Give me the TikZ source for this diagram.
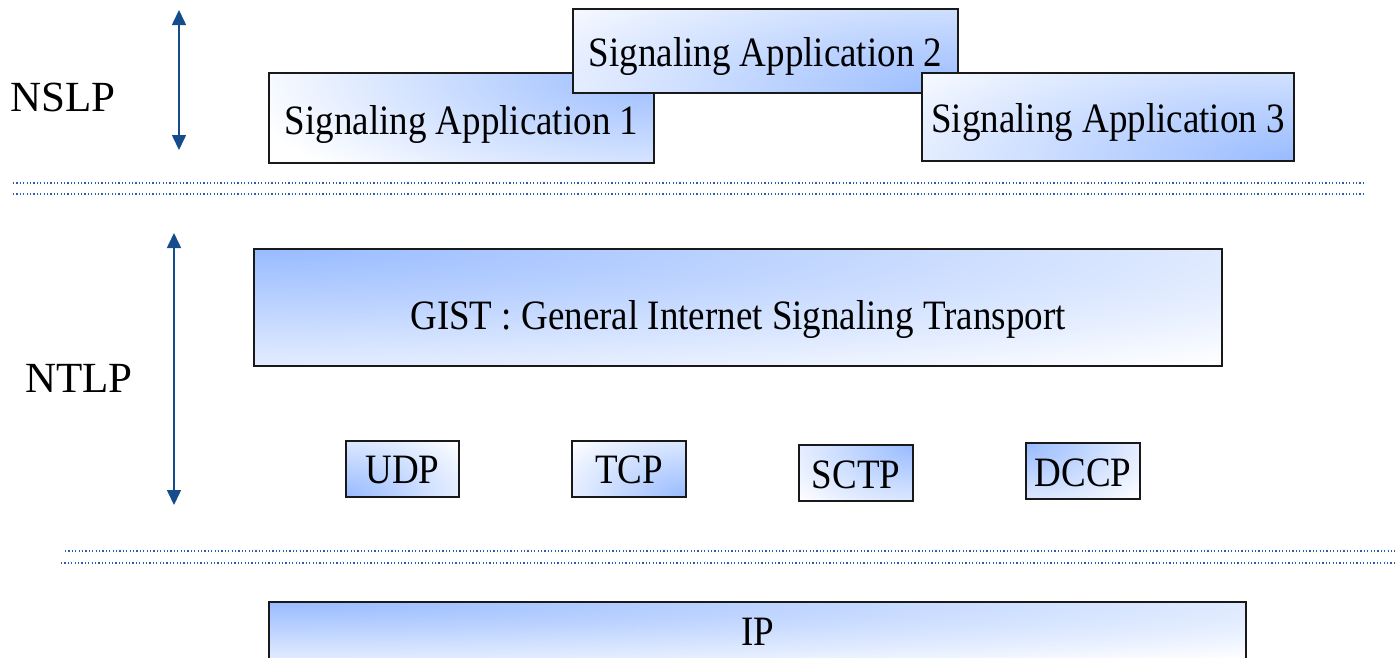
\documentclass[tikz,border=0pt]{standalone}
\usepackage{fontspec}
\setmainfont{Liberation Serif}
\usetikzlibrary{arrows.meta}
\definecolor{gb}{RGB}{152,187,255}
\definecolor{arrblue}{RGB}{22,76,140}
\definecolor{dotblue}{RGB}{40,95,170}
\newcommand{\boxtext}[2]{\raisebox{-#1}[\height][\depth]{\scalebox{1}[1.13]{#2}}}
\tikzset{
  box/.style={draw=black!90, line width=2pt, fill=white, inner sep=0pt,
    font=\fontsize{37}{40}\selectfont},
  glow/.style n args={3}{path picture={\shade[inner color=gb, outer color=white]
    (path picture bounding box.#1) ellipse [x radius=#2, y radius=#3];}},
  layerlbl/.style={font=\fontsize{43}{46}\selectfont, inner sep=0pt},
  sep/.style={dotblue, line width=1.4pt, dash pattern=on 1.2pt off 2.2pt},
  updown/.style={arrblue, line width=1.6pt, {Triangle[width=14pt,length=15pt]}-{Triangle[width=14pt,length=15pt]}}
}
\begin{document}
\begin{tikzpicture}[x=1pt,y=-1pt]
\useasboundingbox (0,0) rectangle (1395,657);
% layer labels
\node[layerlbl] (nslp) at (63,97) {NSLP};
\node[layerlbl] (ntlp) at (79,378) {NTLP};
% vertical arrows
\coordinate (nslpTop) at (179,10);
\coordinate (nslpBot) at (179,150);
\coordinate (ntlpTop) at (174,233);
\coordinate (ntlpBot) at (174,505);
\draw[updown] (nslpTop) -- (nslpBot);
\draw[updown] (ntlpTop) -- (ntlpBot);
% NSLP boxes
\node[box, minimum width=385pt, minimum height=90pt, glow={north east}{420pt}{150pt}] (sa1) at (461.5,118) {\boxtext{6pt}{Signaling Application 1}};
\node[box, minimum width=385pt, minimum height=84pt, glow={south east}{520pt}{160pt}] (sa2) at (765.5,51) {\boxtext{6pt}{Signaling Application 2}};
\node[box, minimum width=372pt, minimum height=88pt, glow={south east}{500pt}{160pt}] (sa3) at (1108,117) {\boxtext{6pt}{Signaling Application 3}};
% separators
\coordinate (s1a) at (13,183); \coordinate (s1b) at (1365,183);
\coordinate (s2a) at (13,194); \coordinate (s2b) at (1365,194);
\draw[sep] (s1a) -- (s1b);
\draw[sep] (s2a) -- (s2b);
\coordinate (s3a) at (65,551); \coordinate (s3b) at (1395,551);
\coordinate (s4a) at (61,563); \coordinate (s4b) at (1395,563);
\draw[sep] (s3a) -- (s3b);
\draw[sep] (s4a) -- (s4b);
% GIST
\node[box, minimum width=968pt, minimum height=117pt, glow={north west}{1400pt}{160pt}] (gist) at (738,307.5) {\boxtext{12pt}{GIST : General Internet Signaling Transport}};
% transports
\node[box, minimum width=113pt, minimum height=56pt, glow={south west}{150pt}{85pt}] (udp) at (402.5,469) {\boxtext{1pt}{UDP}};
\node[box, minimum width=114pt, minimum height=56pt, glow={south east}{150pt}{85pt}] (tcp) at (629,469) {\boxtext{1pt}{TCP}};
\node[box, minimum width=114pt, minimum height=56pt, glow={north east}{150pt}{85pt}] (sctp) at (856,473) {\boxtext{2pt}{SCTP}};
\node[box, minimum width=114pt, minimum height=56pt, glow={north west}{150pt}{85pt}] (dccp) at (1083,471) {\boxtext{2pt}{DCCP}};
% IP
\node[box, minimum width=977pt, minimum height=57pt, glow={north west}{1400pt}{80pt}] (ip) at (757.5,630) {\boxtext{2pt}{IP}};
\end{tikzpicture}
\end{document}
